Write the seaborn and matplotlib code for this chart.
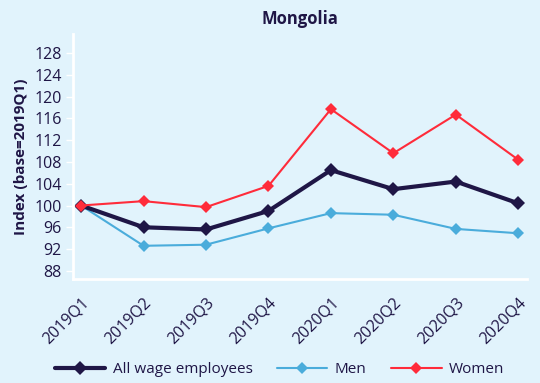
import matplotlib
matplotlib.use("Agg")
import matplotlib.pyplot as plt
import seaborn as sns
import pandas as pd

quarters = ["2019Q1", "2019Q2", "2019Q3", "2019Q4",
            "2020Q1", "2020Q2", "2020Q3", "2020Q4"]
all_wage = [100.0, 96.0, 95.6, 99.0, 106.5, 103.0, 104.4, 100.4]
men = [100.0, 92.6, 92.8, 95.8, 98.6, 98.3, 95.7, 94.9]
women = [100.0, 100.8, 99.7, 103.6, 117.7, 109.6, 116.7, 108.4]
yticks = list(range(88, 129, 4))

bg = "#E1F3FC"
navy = "#1F1646"
blue = "#4AACDB"
red = "#FF2B3A"

sns.set_theme(style="white")
plt.rcParams["font.family"] = ["Open Sans", "DejaVu Sans"]

df = pd.DataFrame({"quarter": quarters, "idx": range(len(quarters)),
                   "All wage employees": all_wage, "Men": men, "Women": women})

fig = plt.figure(figsize=(5.4, 3.83), dpi=100, facecolor=bg)
ax = fig.add_axes([73 / 540, 1 - 279 / 383, (527 - 73) / 540, (279 - 34) / 383])
ax.set_facecolor(bg)

series = [("All wage employees", navy, 3.0, 7.5, 2),
          ("Men", blue, 1.5, 6, 1),
          ("Women", red, 1.5, 6.5, 3)]
for name, color, lw, ms, z in series:
    sns.lineplot(data=df, x="idx", y=name, ax=ax, color=color, linewidth=lw,
                 marker="D", markersize=ms, markeredgewidth=0,
                 label=name, zorder=z)

ax.set_xlim(-0.13, 7.14)
ax.set_ylim(86.5, 131.5)
ax.set_yticks(yticks)
ax.set_yticklabels([str(v) for v in yticks], fontsize=11.5, color=navy)
ax.set_xticks(range(len(quarters)))
ax.set_xticklabels(quarters, rotation=45, ha="right", rotation_mode="anchor",
                   fontsize=11.5, color=navy)
ax.tick_params(axis="y", which="major", left=True, length=5, width=1,
               color="white", pad=3)
ax.tick_params(axis="x", bottom=False, pad=5)
ax.set_xlabel("")
ax.set_ylabel("Index (base=2019Q1)", fontsize=11, fontweight="bold",
              color=navy, labelpad=5)
for side in ["top", "right"]:
    ax.spines[side].set_visible(False)
for side in ["left", "bottom"]:
    ax.spines[side].set_color("white")
    ax.spines[side].set_linewidth(2)

ax.set_title("Mongolia", fontsize=12, fontweight="bold", color=navy, pad=7)

leg = ax.legend(loc="center", bbox_to_anchor=(0.455, -0.37), ncol=3,
                frameon=False, fontsize=11, handlelength=3.3,
                columnspacing=1.6, handletextpad=0.5)
for t in leg.get_texts():
    t.set_color(navy)

fig.savefig("out.png", dpi=100, facecolor=bg)
